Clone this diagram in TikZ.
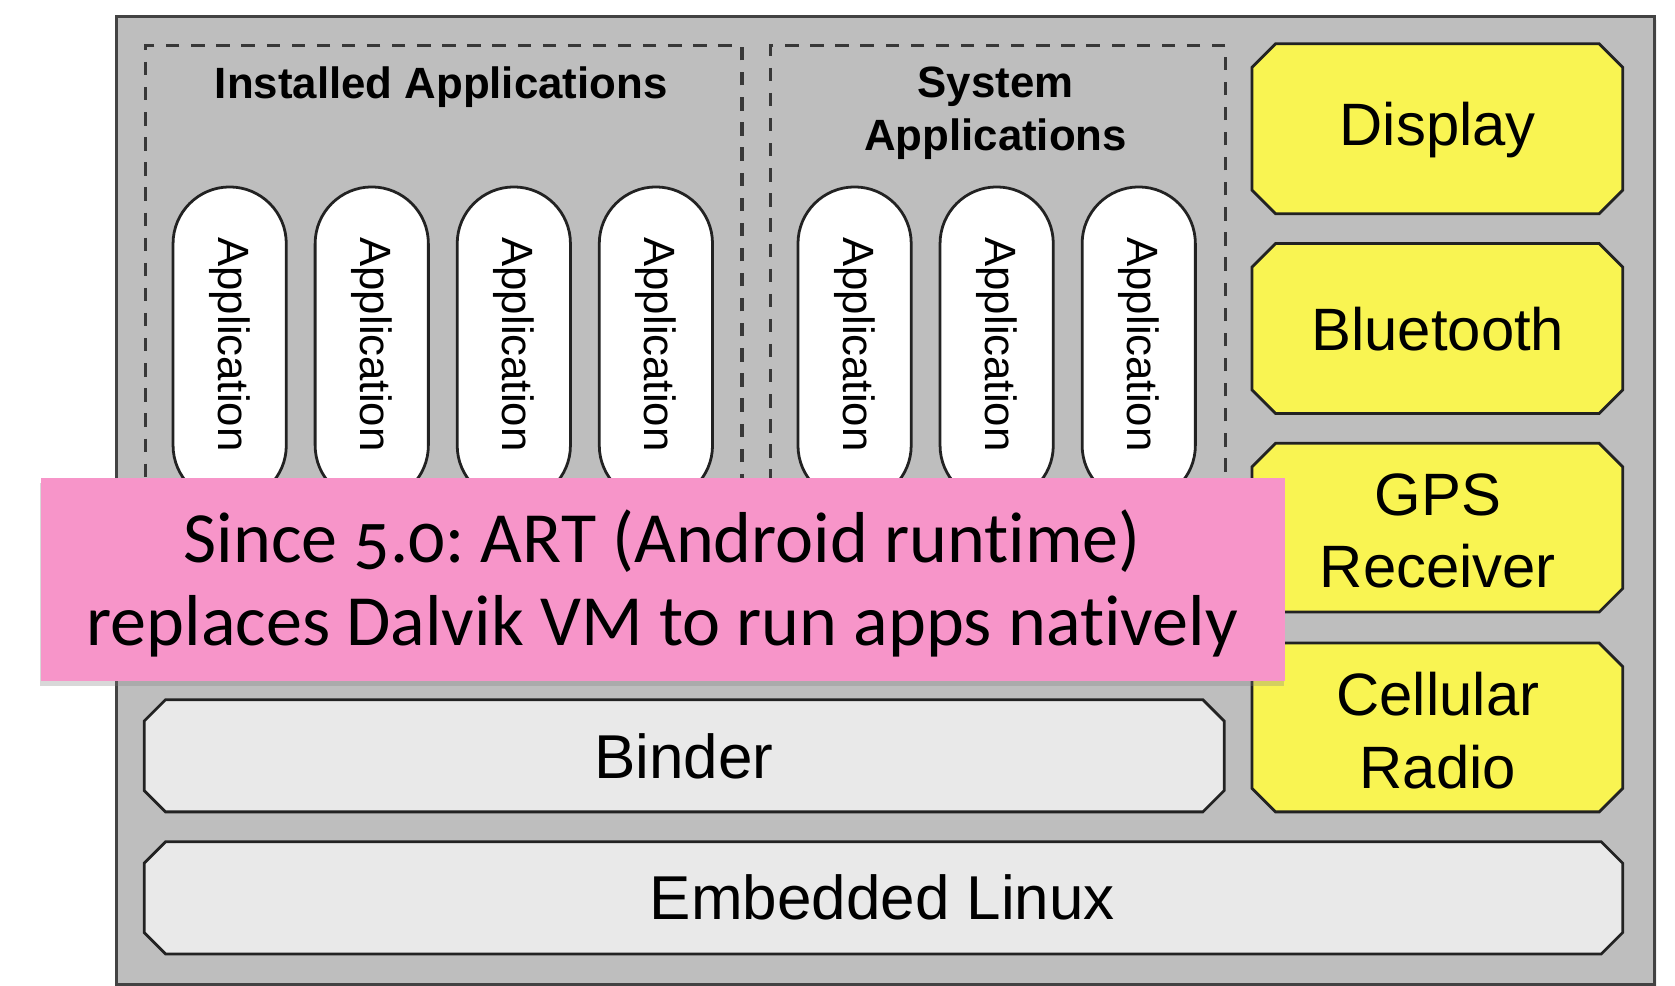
\documentclass[tikz,border=0pt]{standalone}
\usepackage{fontspec}
\setmainfont{Liberation Sans}
\newfontfamily\calib[Numbers=OldStyle,Ligatures=NoCommon]{Carlito}
\usetikzlibrary{shadows}
\frenchspacing
\definecolor{bggray}{HTML}{BEBEBE}
\definecolor{lightbox}{HTML}{E9E9E9}
\definecolor{ylw}{HTML}{F9F452}
\definecolor{pnk}{HTML}{F795C9}
\definecolor{edge}{HTML}{222222}
\newcommand{\chbox}[6]{%
  \draw[#6] ({#1+#5},#2) -- ({#3-#5},#2) -- (#3,{#2+#5}) -- (#3,{#4-#5}) --
    ({#3-#5},#4) -- ({#1+#5},#4) -- (#1,{#4-#5}) -- (#1,{#2+#5}) -- cycle;}
\tikzset{
  outerbox/.style={draw=edge!85, line width=2.8pt, fill=bggray, anchor=north west, inner sep=0pt,
     drop shadow={shadow xshift=3pt, shadow yshift=-3pt, opacity=0.12}},
  dashbox/.style={draw=edge!90, line width=3pt, dash pattern=on 12.5pt off 11pt, anchor=north west, inner sep=0pt},
  grouptitle/.style={font=\bfseries\fontsize{41}{49}\selectfont, align=center, inner sep=0pt},
  pill/.style={draw=edge, line width=2.6pt, fill=white, rounded corners=53pt, rotate=-90,
     minimum width=295pt, minimum height=106pt, inner sep=0pt, font=\fontsize{41}{49}\selectfont},
  hwbox/.style={draw=edge, line width=2.6pt, fill=ylw},
  layerbox/.style={draw=edge, line width=2.6pt, fill=lightbox},
  hwtext/.style={font=\fontsize{56}{68}\selectfont, align=center, inner sep=0pt},
  layertext/.style={font=\fontsize{58}{68}\selectfont, inner sep=0pt},
  note/.style={fill=pnk, anchor=north west, inner sep=0pt, minimum width=1165pt, minimum height=190pt,
     drop shadow={shadow xshift=-1pt, shadow yshift=-5pt, opacity=0.3}},
  notetext/.style={font=\calib\fontsize{67.5}{78}\selectfont, align=center, inner sep=0pt}
}
\begin{document}
\begin{tikzpicture}[x=1pt,y=-1pt]
\useasboundingbox (0,0) rectangle (1568,923);
\fill[white] (0,0) rectangle (1568,923);
% outer platform box
\node[outerbox, minimum width=1439pt, minimum height=906pt] (outer) at (108,14) {};
% application groups
\node[dashbox, minimum width=558pt, minimum height=584pt] (inst) at (135,41) {};
\node[dashbox, minimum width=426pt, minimum height=584pt] (sys) at (720,41) {};
\node[grouptitle] (instT) at (413,82) {Installed Applications};
\node[grouptitle] (sysT) at (932,106) {System\\Applications};
% application pills
\foreach \x/\n in {215/a1,348/a2,481/a3,614/a4,800/s1,933/s2,1066/s3}
  \node[pill] (\n) at (\x,322.5) {Application};
% hardware boxes
\chbox{1172}{41}{1519}{200}{22}{hwbox}
\chbox{1172}{228}{1519}{387}{22}{hwbox}
\chbox{1172}{415}{1519}{573}{22}{hwbox}
\chbox{1172}{602}{1519}{760}{22}{hwbox}
\node[hwtext] (disp) at (1346,122) {Display};
\node[hwtext] (bt) at (1346,308) {Bluetooth};
\node[hwtext] (gps) at (1346,497) {GPS\\Receiver};
\node[hwtext] (cell) at (1346,684) {Cellular\\Radio};
% layers
\chbox{135}{655}{1146}{760}{20}{layerbox}
\chbox{135}{788}{1519}{893}{20}{layerbox}
\node[layertext] (binder) at (640,708) {Binder};
\node[layertext] (linux) at (826,840) {Embedded Linux};
% note overlay
\node[note] (noteBox) at (38,447) {};
\node[notetext] (noteT) at (620,546) {Since 5.0: ART (Android runtime)\\replaces Dalvik VM to run apps natively};
\end{tikzpicture}
\end{document}
